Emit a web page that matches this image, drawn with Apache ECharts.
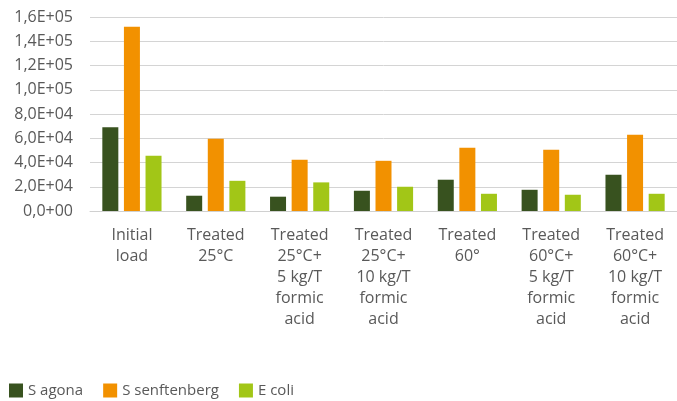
<!DOCTYPE html>
<html>
<head>
<meta charset="utf-8">
<script src="https://cdn.jsdelivr.net/npm/echarts@6/dist/echarts.min.js"></script>
<style>
html,body{margin:0;padding:0;background:#fff;}
#chart{width:677px;height:401px;}
</style>
</head>
<body>
<div id="chart"></div>
<script>
const categories = [
  "Initial\nload",
  "Treated\n25°C",
  "Treated\n25°C+\n5 kg/T\nformic\nacid",
  "Treated\n25°C+\n10 kg/T\nformic\nacid",
  "Treated\n60°",
  "Treated\n60°C+\n5 kg/T\nformic\nacid",
  "Treated\n60°C+\n10 kg/T\nformic\nacid"
];
const seriesNames = ["S agona", "S senftenberg", "E coli"];
const sAgona = [69000, 12600, 11800, 16700, 25800, 17500, 29900];
const sSenftenberg = [152000, 59500, 42200, 41400, 52100, 50500, 62800];
const eColi = [45500, 24900, 23600, 20000, 14200, 13400, 14200];
const yTickLabels = ["0,0+00","2,0E+04","4,0E+04","6,0E+04","8,0E+04","1,0E+05","1,2E+05","1,4E+05","1,6E+05"];
const yStep = 20000;

const colors = ["#38521F", "#F29100", "#A2C617"];
const font = "'Open Sans', 'Noto Sans', sans-serif";

const chart = echarts.init(document.getElementById('chart'), null, {renderer: 'canvas'});
chart.setOption({
  animation: false,
  color: colors,
  textStyle: {fontFamily: font},
  grid: {left: 90, right: -9, top: 17, bottom: 190, containLabel: false},
  legend: {
    left: 9, top: 383, padding: 0,
    icon: 'rect', itemWidth: 14, itemHeight: 14, itemGap: 20,
    textStyle: {fontSize: 15, color: '#595959', fontFamily: font},
    data: seriesNames
  },
  xAxis: {
    type: 'category',
    data: categories,
    axisTick: {show: false},
    axisLine: {lineStyle: {color: '#d0d0d0', width: 1}},
    axisLabel: {interval: 0, fontSize: 16, lineHeight: 21, color: '#595959', margin: 14, fontFamily: font}
  },
  yAxis: {
    type: 'value',
    min: 0, max: 160000, interval: yStep,
    axisLine: {show: false},
    axisTick: {show: false},
    splitLine: {lineStyle: {color: '#d4d4d4', width: 1}},
    axisLabel: {
      fontSize: 16, color: '#595959', margin: 17, fontFamily: font,
      formatter: v => yTickLabels[Math.round(v / yStep)]
    }
  },
  series: [
    {name: seriesNames[0], type: 'bar', data: sAgona, barWidth: 16, barGap: '35%'},
    {name: seriesNames[1], type: 'bar', data: sSenftenberg, barWidth: 16, barGap: '35%'},
    {name: seriesNames[2], type: 'bar', data: eColi, barWidth: 16, barGap: '35%'}
  ]
});
</script>
</body>
</html>
